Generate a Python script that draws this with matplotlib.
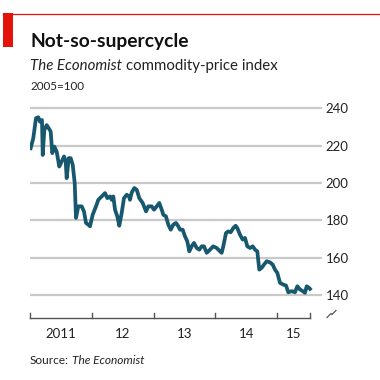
import matplotlib
matplotlib.use("Agg")
import matplotlib.pyplot as plt
from matplotlib.patches import Rectangle
from matplotlib.lines import Line2D
import numpy as np

# ---- data (decimal years, index 2005=100) ----
years = [2011.011, 2011.053, 2011.097, 2011.134, 2011.162, 2011.194, 2011.206, 2011.232,
         2011.270, 2011.313, 2011.335, 2011.361, 2011.394, 2011.432, 2011.474, 2011.513,
         2011.551, 2011.578, 2011.594, 2011.627, 2011.659, 2011.692, 2011.724, 2011.745,
         2011.782, 2011.837, 2011.874, 2011.907, 2011.944, 2011.972, 2012.015, 2012.069,
         2012.106, 2012.161, 2012.215, 2012.252, 2012.296, 2012.323, 2012.349, 2012.377,
         2012.414, 2012.446, 2012.485, 2012.522, 2012.566, 2012.603, 2012.619, 2012.647,
         2012.689, 2012.728, 2012.770, 2012.825, 2012.879, 2012.916, 2012.971, 2013.008,
         2013.052, 2013.094, 2013.133, 2013.159, 2013.202, 2013.240, 2013.279, 2013.321,
         2013.364, 2013.402, 2013.429, 2013.473, 2013.510, 2013.547, 2013.580, 2013.618,
         2013.656, 2013.700, 2013.742, 2013.781, 2013.818, 2013.862, 2013.915, 2013.968,
         2014.023, 2014.077, 2014.104, 2014.130, 2014.174, 2014.211, 2014.250, 2014.292,
         2014.331, 2014.357, 2014.401, 2014.444, 2014.482, 2014.519, 2014.563, 2014.607,
         2014.644, 2014.681, 2014.713, 2014.752, 2014.789, 2014.833, 2014.887, 2014.930,
         2014.968, 2015.005, 2015.049, 2015.102, 2015.146, 2015.183, 2015.238, 2015.291,
         2015.329, 2015.372, 2015.416, 2015.453, 2015.481, 2015.518, 2015.534]
index = [218.6, 224.0, 234.7, 235.2, 232.8, 233.7, 215.0, 228.4,
         231.0, 228.8, 227.5, 216.0, 219.5, 216.8, 208.8, 211.5,
         214.2, 211.5, 202.6, 213.3, 213.3, 209.7, 200.0, 181.3,
         187.5, 187.5, 184.8, 178.6, 177.7, 176.8, 183.0, 187.5,
         191.0, 192.8, 194.6, 191.9, 192.8, 191.0, 192.8, 185.7,
         182.1, 177.1, 184.0, 191.9, 193.7, 192.8, 191.0, 194.9,
         197.3, 196.4, 191.9, 189.3, 184.8, 187.5, 187.5, 185.7,
         187.5, 189.3, 185.7, 183.0, 182.1, 177.7, 175.0, 177.7,
         178.6, 176.8, 175.0, 175.0, 171.4, 168.8, 163.4, 166.1,
         167.9, 165.2, 164.3, 166.1, 166.1, 162.6, 164.3, 166.1,
         165.2, 163.4, 162.6, 166.1, 173.2, 174.1, 173.6, 175.9,
         177.1, 175.9, 172.3, 169.7, 170.6, 166.1, 165.2, 166.1,
         164.3, 163.4, 153.6, 154.6, 156.3, 158.1, 157.5, 156.3,
         153.6, 151.9, 146.5, 145.6, 145.1, 141.5, 142.1, 141.5,
         144.7, 143.0, 142.1, 141.2, 144.7, 143.9, 143.3]

y_ticks = [140, 160, 180, 200, 220, 240]
x_tick_years = [2011, 2012, 2013, 2014, 2015]
x_labels = ["2011", "12", "13", "14", "15"]
x_end = 2015.535

title = "Not-so-supercycle"
source_italic = "The Economist"

RED = "#e3120b"
LINE = "#17586f"
GRID = "#c9c9c9"
TXT = "#222222"
FONT = ["Lato", "DejaVu Sans"]
plt.rcParams["font.family"] = FONT

W = H = 380
fig = plt.figure(figsize=(3.8, 3.8), dpi=100)
renderer = fig.canvas.get_renderer()

def fx(px):
    return px / W

def fy(py):
    return 1 - py / H

def text_after(t, gap_px, s, **kw):
    bb = t.get_window_extent(renderer=renderer)
    return fig.text((bb.x1 + gap_px) / W, t.get_position()[1], s, **kw)

# header decorations
fig.add_artist(Line2D([fx(3), fx(380)], [fy(13.5), fy(13.5)], color=RED, lw=0.9))
fig.add_artist(Rectangle((fx(3), fy(47)), fx(10), (47 - 13) / H, color=RED, lw=0))

fig.text(fx(30), fy(42), title, fontsize=13.9, fontweight="bold", color="#111111",
         va="center", ha="left")
t1 = fig.text(fx(30), fy(66), "The Economist", fontsize=10.8, style="italic", color=TXT,
              va="center", ha="left")
text_after(t1, 3.5, "commodity-price index", fontsize=10.8, color=TXT, va="center", ha="left")
fig.text(fx(30), fy(86), "2005=100", fontsize=8.4, color=TXT, va="center", ha="left")

# axes: x from px 30 (2011.0) to px 321.7, y from px 318.3 (127.7) to px 100 (244.4)
px_per_year = 61.75
x_left = 2011.0
x_right = x_left + (321.7 - 30) / px_per_year
px_per_unit = 37.45 / 20
y_top = 240 + (108.3 - 100) / px_per_unit
y_bot = 140 - (318.3 - 295) / px_per_unit

ax = fig.add_axes([fx(30), fy(318.3), fx(321.7) - fx(30), (318.3 - 100) / H])
ax.set_xlim(x_left, x_right)
ax.set_ylim(y_bot, y_top)
for s in ax.spines.values():
    s.set_visible(False)
ax.set_xticks([])
ax.yaxis.tick_right()
ax.set_yticks(y_ticks)
ax.tick_params(axis="y", length=0, pad=3, labelsize=9.5, labelcolor=TXT)
for t in y_ticks:
    ax.axhline(t, color=GRID, lw=1.6, zorder=1)

ax.plot(years, index, color=LINE, lw=2.7, solid_joinstyle="round", zorder=3)

# bottom axis with ticks
ax.plot([x_left, x_end], [y_bot, y_bot], color="#555555", lw=1.0, clip_on=False, zorder=4)
tick_h = 5 / px_per_unit
for xt in x_tick_years + [x_end]:
    ax.plot([xt, xt], [y_bot, y_bot + tick_h], color="#555555", lw=1.0, clip_on=False, zorder=4)
centers = [(x_tick_years[i] + (x_tick_years[i + 1] if i + 1 < len(x_tick_years) else x_end)) / 2
           for i in range(len(x_tick_years))]
for c, lab in zip(centers, x_labels):
    ax.text(c, y_bot - 16 / px_per_unit, lab, ha="center", va="center", fontsize=9.5, color=TXT)

# axis break symbol
bx, by = 331.5, 314
fig.add_artist(Line2D([fx(v) for v in [bx - 4.5, bx - 0.5, bx + 0.5, bx + 4.5]],
                      [fy(v) for v in [by + 3.5, by - 0.5, by + 0.5, by - 3.5]],
                      color="#555555", lw=0.9))

# source
s1 = fig.text(fx(30), fy(361), "Source:", fontsize=8.6, color=TXT, va="center", ha="left")
text_after(s1, 3, source_italic, fontsize=8.6, style="italic", color=TXT, va="center", ha="left")

fig.savefig("out.png", dpi=100, facecolor="white")
